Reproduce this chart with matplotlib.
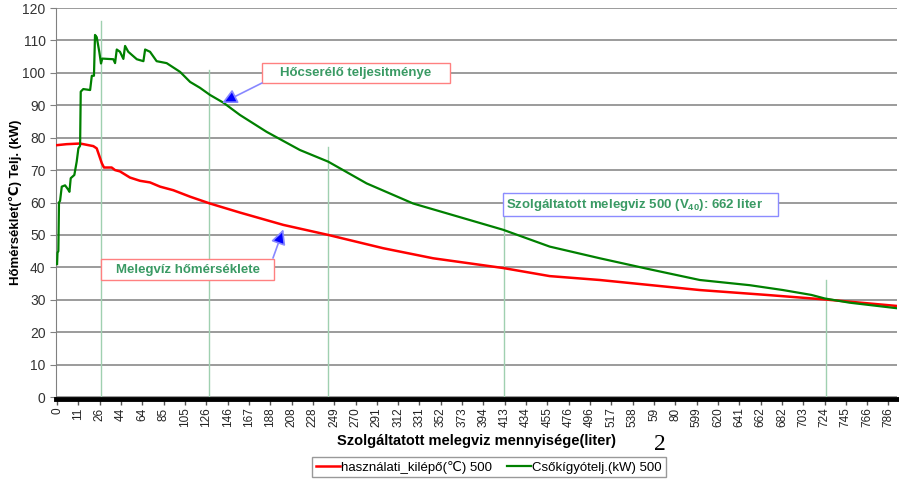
import numpy as np
import matplotlib
matplotlib.use('Agg')
import matplotlib.pyplot as plt
from matplotlib.patches import Rectangle

plt.rcParams['font.family'] = ['Liberation Sans', 'DejaVu Sans']

# category labels of the x axis (as printed)
x_labels = ['0', '11', '26', '44', '64', '85', '105', '126', '146', '167',
            '188', '208', '228', '249', '270', '291', '312', '331', '352', '373',
            '394', '413', '434', '455', '476', '496', '517', '538', '59', '80',
            '599', '620', '641', '662', '682', '703', '724', '745', '766', '786']

# curve points, x in category-label units
green_x = [0.0, 0.02, 0.06, 0.09, 0.14, 0.22, 0.375, 0.52, 0.58, 0.64, 0.81, 0.92,
           1.0, 1.08, 1.11, 1.23, 1.55, 1.63, 1.73, 1.78, 1.86, 1.98, 2.06, 2.12,
           2.64, 2.72, 2.80, 2.95, 3.11, 3.19, 3.34, 3.74, 4.05, 4.13, 4.36, 4.67,
           5.14, 5.77, 6.24, 6.70, 7.17, 7.80, 8.58, 9.83, 11.39, 12.72, 14.52,
           16.70, 18.42, 20.92, 23.11, 25.46, 27.80, 30.15, 32.49, 34.05, 35.38,
           36.01, 37.18, 39.38]
green_y = [41.0, 44.5, 45.0, 60.0, 60.5, 64.9, 65.3, 64.0, 63.3, 67.5, 68.5, 72.6,
           76.7, 77.5, 94.2, 95.0, 94.7, 99.1, 99.1, 111.7, 111.0, 106.5, 102.9, 104.4,
           104.2, 103.0, 107.2, 106.5, 104.3, 108.3, 106.5, 104.2, 103.6, 107.2, 106.5, 103.6,
           103.0, 100.3, 97.2, 95.4, 93.2, 90.8, 87.0, 81.8, 76.2, 72.6, 65.9,
           59.7, 56.4, 51.6, 46.4, 42.8, 39.4, 36.1, 34.5, 33.0, 31.5,
           30.4, 29.1, 27.4]

red_x = [0.0, 0.45, 1.08, 1.70, 1.86, 2.10, 2.20, 2.56, 2.72, 2.95, 3.42, 3.89,
         4.36, 4.83, 5.45, 6.24, 7.17, 8.58, 10.61, 12.72, 15.30, 17.64, 20.92,
         23.11, 25.46, 30.15, 33.27, 36.01, 39.38]
red_y = [77.7, 78.0, 78.2, 77.4, 76.7, 72.1, 70.8, 70.8, 70.0, 69.6, 67.7, 66.7,
         66.2, 64.9, 63.8, 61.8, 59.7, 56.9, 53.1, 50.0, 45.9, 42.8, 39.8,
         37.3, 36.1, 33.0, 31.5, 30.1, 28.1]

# vertical marker lines (x in category units, top value)
vline_x = [2.06, 7.13, 12.72, 20.96, 36.05]
vline_top = [116, 101, 77, 63, 36]

fig = plt.figure(figsize=(8.99, 4.83), dpi=100)
ax = fig.add_axes([0.0623, 0.178, 0.9355, 0.8054])

for s in ['top', 'right']:
    ax.spines[s].set_visible(False)
ax.spines['left'].set_color('#808080')
# dense category ticks of the original look like a thick black band
ax.spines['bottom'].set_color('black')
ax.spines['bottom'].set_linewidth(3.5)
ax.spines['bottom'].set_position(('outward', 1.5))

ax.set_ylim(0, 120)
ax.set_xlim(-0.05, 39.4)
ax.set_yticks(np.arange(0, 121, 10))
ax.yaxis.grid(True, color='#808080', lw=1.1, zorder=0)
ax.set_axisbelow(True)

for xv, top in zip(vline_x, vline_top):
    ax.plot([xv, xv], [0, top], color='#9fd0b0', lw=1.0, zorder=1)

ax.plot(red_x, red_y, color='#ff0000', lw=1.8, zorder=3, label='használati_kilépő(℃) 500')
ax.plot(green_x, green_y, color='#008000', lw=1.6, zorder=3, label='Csőkígyótelj.(kW) 500')

ax.set_xticks(range(len(x_labels)))
ax.set_xticklabels(x_labels, rotation=90, fontsize=8.5, color='#222222')
ax.tick_params(axis='x', which='major', length=4, width=1.0, pad=2,
               color='#555555')
ax.tick_params(axis='y', labelsize=10, length=4, color='#808080', labelcolor='#333333')

ax.set_ylabel('Hőmérséklet(℃) Telj. (kW)', fontsize=9.5, fontweight='bold')
ax.yaxis.set_label_coords(-0.04, 0.5)
ax.set_xlabel('Szolgáltatott melegviz mennyisége(liter)', fontsize=10.5,
              fontweight='bold', labelpad=5)

# annotation boxes (axes fraction)
txt_col = '#3a9a64'
boxes = [
    (0.2449, 0.8072, 0.2236, 0.0514, '#ff8080', 'Hőcserélő teljesitménye'),
    (0.0535, 0.3008, 0.2057, 0.0540, '#ff8080', 'Melegvíz hőmérséklete'),
    (0.5315, 0.4653, 0.3270, 0.0591, '#8c8cff',
     'Szolgáltatott melegviz 500 (V$\\mathregular{_{40}}$): 662 liter'),
]
for bx, by, bw, bh, ec, t in boxes:
    ax.add_patch(Rectangle((bx, by), bw, bh, transform=ax.transAxes,
                           facecolor='white', edgecolor=ec, lw=1.0, zorder=4))
    ha = 'left' if t.startswith('Szolg') else 'center'
    tx = bx + 0.004 if ha == 'left' else bx + bw / 2
    ax.text(tx, by + bh / 2, t, transform=ax.transAxes, ha=ha, va='center',
            fontsize=9.5, fontweight='bold', color=txt_col, zorder=5)

arrows = [((0.2449, 0.8072), (0.1974, 0.7558)),
          ((0.2580, 0.3573), (0.2703, 0.4311))]
for start, end in arrows:
    ax.annotate('', xy=end, xytext=start, xycoords='axes fraction',
                textcoords='axes fraction',
                arrowprops=dict(arrowstyle='-|>,head_length=0.9,head_width=0.45',
                                edgecolor='#8888ff', facecolor='#0000ff', lw=1.2,
                                shrinkA=0, shrinkB=0), zorder=6)

fig.text(660 / 899, 1 - 445 / 483, '2', fontsize=17, family='Liberation Serif',
         ha='center', va='center')

leg = fig.legend(loc='center', bbox_to_anchor=(489 / 899, 1 - 467 / 483), ncol=2,
                 fontsize=9.5, frameon=True, fancybox=False, edgecolor='#808080',
                 handlelength=1.8, handletextpad=0.1, columnspacing=1.1,
                 borderpad=0.3)
leg.get_frame().set_linewidth(1.0)

fig.savefig('out.png', dpi=100)
